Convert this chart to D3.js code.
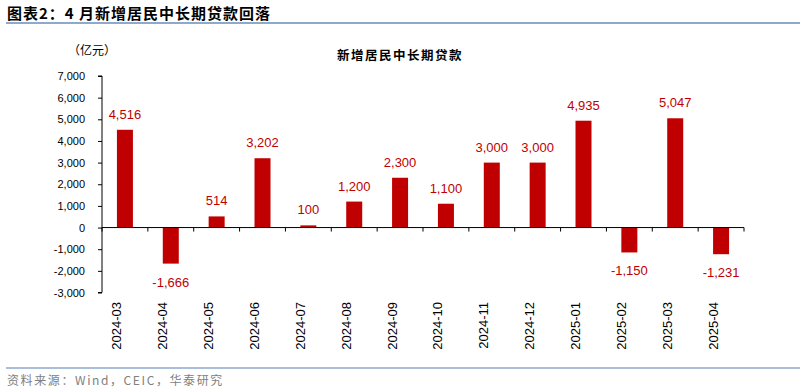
<!DOCTYPE html>
<html>
<head>
<meta charset="utf-8">
<script src="https://cdn.jsdelivr.net/npm/d3@7"></script>
<style>
  body { margin: 0; background: #fff; }
  svg { display: block; font-family: Arial, "Liberation Sans", "Noto Sans CJK SC", sans-serif; }
</style>
</head>
<body>
<svg id="chart" width="800" height="392"></svg>
<script>
const months = ["2024-03", "2024-04", "2024-05", "2024-06", "2024-07", "2024-08", "2024-09",
  "2024-10", "2024-11", "2024-12", "2025-01", "2025-02", "2025-03", "2025-04"];
const loans = [4516, -1666, 514, 3202, 100, 1200, 2300, 1100, 3000, 3000, 4935, -1150, 5047, -1231];
const yTicks = [-3000, -2000, -1000, 0, 1000, 2000, 3000, 4000, 5000, 6000, 7000];

const red = "#c00000";
const fmt = d3.formatLocale({ decimal: ".", thousands: ",", grouping: [3], currency: ["", ""], minus: "-" }).format(",");
const svg = d3.select("#chart");

// header and footer
svg.append("text")
  .attr("x", 7).attr("y", 19)
  .style("font-size", "15px").style("font-weight", "bold").style("letter-spacing", "1px")
  .style("font-family", "'Noto Sans CJK SC', sans-serif")
  .text("图表2：4 月新增居民中长期贷款回落");
svg.append("line").attr("x1", 6).attr("x2", 800).attr("y1", 23).attr("y2", 23)
  .attr("stroke", "#8fa9cc").attr("stroke-width", 2);
svg.append("line").attr("x1", 6).attr("x2", 800).attr("y1", 368).attr("y2", 368)
  .attr("stroke", "#8fa9cc").attr("stroke-width", 1.5);
svg.append("text")
  .attr("x", 7).attr("y", 385)
  .style("font-size", "12px").style("letter-spacing", "1.6px").attr("fill", "#808080")
  .style("font-family", "'Noto Sans CJK SC', sans-serif")
  .text("资料来源：Wind，CEIC，华泰研究");

svg.append("text")
  .attr("x", 400).attr("y", 60).attr("text-anchor", "middle")
  .style("font-size", "12.5px").style("font-weight", "bold").style("letter-spacing", "1.5px")
  .style("font-family", "'Noto Sans CJK SC', sans-serif")
  .text("新增居民中长期贷款");
svg.append("text")
  .attr("x", 68).attr("y", 55)
  .style("font-size", "12px")
  .style("font-family", "'Noto Sans CJK SC', sans-serif")
  .text("（亿元）");

const margin = { left: 102, right: 56 };
const x = d3.scaleBand().domain(months).range([margin.left, 800 - margin.right]);
const y = d3.scaleLinear().domain([-3000, 7000]).range([292.5, 76]);

// y axis
const yAxis = svg.append("g")
  .attr("transform", `translate(${margin.left},0)`)
  .call(d3.axisLeft(y).tickValues(yTicks).tickSize(4).tickPadding(13).tickFormat(fmt));
yAxis.select(".domain").attr("stroke", "#000").attr("d", `M-4,${y(-3000)}H0V${y(7000)}H-4`);
yAxis.selectAll("text").style("font-size", "11px").attr("fill", "#000");

// bars
svg.selectAll(".bar")
  .data(loans)
  .enter()
  .append("rect")
  .attr("class", "bar")
  .attr("x", (d, i) => x(months[i]) + (x.bandwidth() - 16) / 2)
  .attr("y", d => y(Math.max(0, d)))
  .attr("width", 16)
  .attr("height", d => Math.abs(y(d) - y(0)))
  .attr("fill", red);

// zero line with ticks at category boundaries
const zero = svg.append("g").attr("transform", `translate(0,${y(0)})`);
zero.append("line").attr("x1", x.range()[0]).attr("x2", x.range()[1])
  .attr("stroke", "#000").attr("stroke-width", 1);
zero.selectAll(".tk")
  .data(months.map((m, i) => x(m) + x.bandwidth()).concat([x.range()[0]]))
  .enter()
  .append("line")
  .attr("x1", d => d).attr("x2", d => d)
  .attr("y1", 0).attr("y2", 4)
  .attr("stroke", "#000");

// data labels
svg.selectAll(".lbl")
  .data(loans)
  .enter()
  .append("text")
  .attr("class", "lbl")
  .attr("x", (d, i) => x(months[i]) + x.bandwidth() / 2)
  .attr("y", d => d >= 0 ? y(d) - 11 : y(d) + 23)
  .attr("text-anchor", "middle")
  .attr("fill", red)
  .style("font-size", "13px")
  .text(d => fmt(d));

// rotated month labels
svg.selectAll(".xl")
  .data(months)
  .enter()
  .append("text")
  .attr("class", "xl")
  .attr("transform", d => `translate(${x(d) + x.bandwidth() / 2 - 3.5},302) rotate(-90)`)
  .attr("text-anchor", "end")
  .style("font-size", "13px")
  .text(d => d);
</script>
</body>
</html>
